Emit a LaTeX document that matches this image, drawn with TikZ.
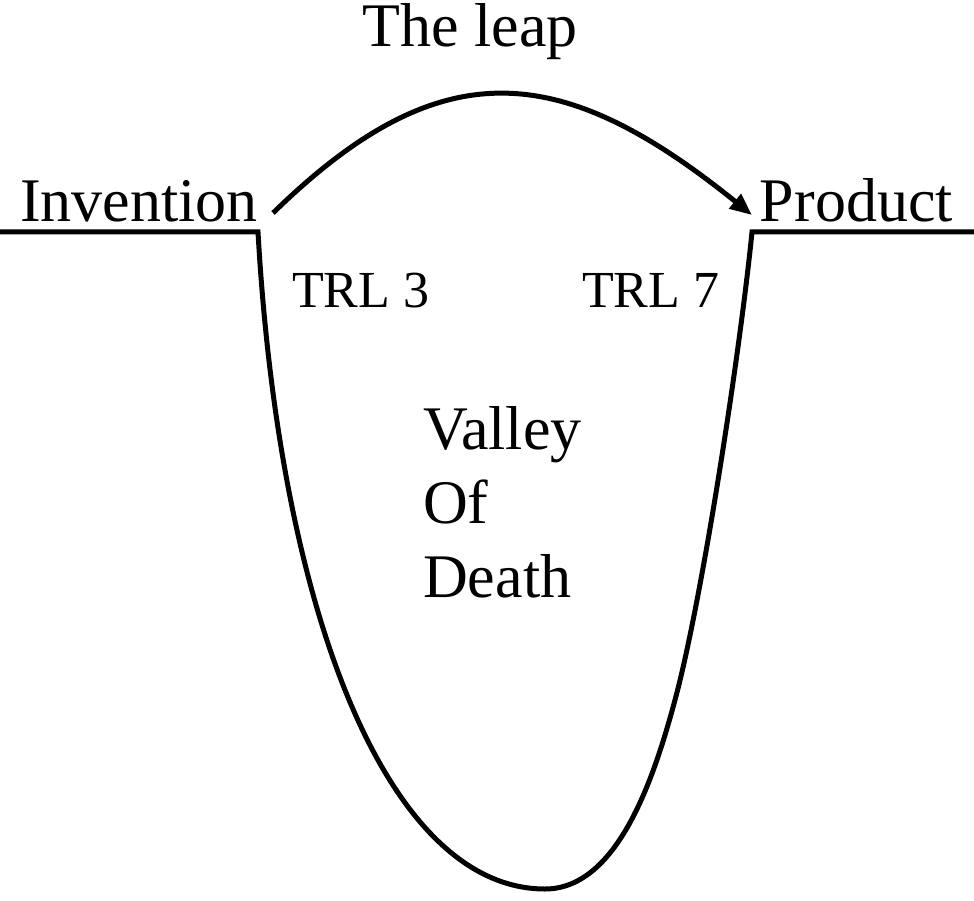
\documentclass[tikz,border=0pt]{standalone}
\usepackage{fontspec}
\setmainfont{Liberation Serif}
\usetikzlibrary{arrows.meta}
\begin{document}
\begin{tikzpicture}[x=1pt,y=-1pt,
  bigtext/.style={font=\fontsize{62}{74}\selectfont, inner sep=0pt, anchor=base},
  trltext/.style={font=\fontsize{52}{62}\selectfont, inner sep=0pt, anchor=base},
  stroke/.style={line width=5pt, line join=miter},
  leaparrow/.style={line width=5pt, -{Triangle[length=22pt,width=18pt]}}]
\useasboundingbox (0,0) rectangle (974,901);

% labels
\node[bigtext, anchor=base west] (invention) at (20,222) {Invention};
\node[bigtext, anchor=base east] (product) at (953,222) {Product};
\node[bigtext] (leap) at (470,47) {The leap};
\node[trltext, anchor=base west] (trl3) at (292,307) {TRL 3};
\node[trltext, anchor=base west] (trl7) at (582,307) {TRL 7};
% the base anchor of a multi-line node sits on its last line
\node[bigtext, anchor=base west, align=left] (valley) at (423,597) {Valley\\Of\\Death};

% ground level on both sides and the valley between them
\coordinate (gl) at (0,232);
\coordinate (vl) at (258,232);
\coordinate (vb) at (545,889);
\coordinate (vk) at (675,700);
\coordinate (vr) at (752,232);
\coordinate (gr) at (974,232);
\draw[stroke] (gl) -- (vl)
  .. controls (280,620) and (390,889) .. (vb)
  .. controls (620,889) and (656,770) .. (vk)
  .. controls (702,600) and (740,352) .. (vr)
  -- (gr);

% the leap across the valley
\coordinate (leapstart) at (273,213);
\coordinate (leapend) at (752,215);
\draw[leaparrow] (leapstart) .. controls (440,50) and (560,60) .. (leapend);
\end{tikzpicture}
\end{document}
